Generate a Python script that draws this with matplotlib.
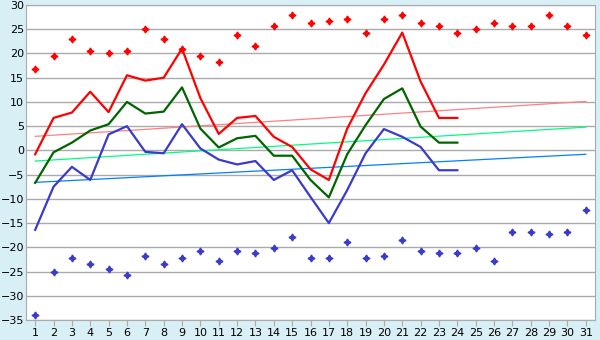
import matplotlib
matplotlib.use("Agg")
import matplotlib.pyplot as plt
import numpy as np

# dias del mes
dias = list(range(1, 32))
dias_linea = list(range(1, 25))

# puntos: maximas y minimas absolutas
max_abs = [16.7, 19.4, 22.9, 20.6, 20.0, 20.6, 25.0, 22.9, 21.0, 19.4,
           18.3, 23.9, 21.6, 25.6, 27.9, 26.2, 26.8, 27.2, 24.3, 27.2,
           27.9, 26.2, 25.6, 24.3, 25.0, 26.2, 25.6, 25.6, 27.9, 25.6, 23.9]
min_abs = [-34.0, -25.1, -22.2, -23.4, -24.5, -25.7, -21.8, -23.4, -22.2, -20.8,
           -22.8, -20.8, -21.2, -20.1, -17.9, -22.2, -22.2, -18.9, -22.2, -21.8,
           -18.5, -20.8, -21.2, -21.2, -20.1, -22.8, -16.8, -16.8, -17.2, -16.8, -12.3]

# lineas: maxima, media y minima diarias
t_max = [-0.8, 6.7, 7.8, 12.1, 7.9, 15.5, 14.4, 15.0, 21.0, 10.8,
         3.4, 6.7, 7.1, 2.8, 0.7, -3.9, -6.1, 4.5, 11.8, 17.7,
         24.3, 14.2, 6.7, 6.7]
t_med = [-6.7, -0.4, 1.6, 4.1, 5.4, 10.0, 7.6, 8.0, 13.0, 4.5,
         0.6, 2.5, 3.0, -1.1, -1.1, -6.1, -9.7, -0.8, 5.2, 10.6,
         12.8, 4.9, 1.6, 1.6]
t_min = [-16.4, -7.5, -3.4, -6.1, 3.3, 5.0, -0.3, -0.6, 5.4, 0.4,
         -1.9, -2.9, -2.2, -6.1, -4.1, -9.6, -15.0, -8.2, -0.6, 4.4,
         2.8, 0.7, -4.1, -4.1]

# tendencias (valor el dia 1 y el dia 31)
tend_dias = [1, 31]
tend_max = [2.9, 10.1]
tend_med = [-2.2, 4.8]
tend_min = [-6.6, -0.8]

fondo = "#d9eff6"
fig = plt.figure(figsize=(6, 3.4), dpi=100, facecolor=fondo)
ax = fig.add_axes([26 / 600, 20 / 340, 569 / 600, 315 / 340])
ax.set_facecolor("white")

ax.set_xlim(0.5, 31.5)
ax.set_ylim(-35, 30)
ax.set_yticks(np.arange(-35, 31, 5))
ax.set_xticks(dias)
ax.grid(axis="y", color="#aaaaaa", linewidth=1)
ax.set_axisbelow(True)

ax.plot(tend_dias, tend_max, color="#ff8080", linewidth=0.9)
ax.plot(tend_dias, tend_med, color="#00ff80", linewidth=0.9)
ax.plot(tend_dias, tend_min, color="#0080ff", linewidth=0.9)

ax.plot(dias_linea, t_max, color="#ff0000", linewidth=1.6)
ax.plot(dias_linea, t_med, color="#006400", linewidth=1.6)
ax.plot(dias_linea, t_min, color="#3a3acc", linewidth=1.6)

ax.plot(dias, max_abs, linestyle="none", marker=(4, 1, 0), markersize=5,
        color="#ff0000")
ax.plot(dias, min_abs, linestyle="none", marker=(4, 1, 0), markersize=5,
        color="#3a3acc")

for s in ax.spines.values():
    s.set_color("#aaaaaa")
ax.tick_params(axis="x", colors="#aaaaaa", labelcolor="black", labelsize=8,
               length=4, pad=2)
ax.tick_params(axis="y", colors="#aaaaaa", labelcolor="black", labelsize=8,
               length=0, pad=1.5)

fig.savefig("out.png", dpi=100, facecolor=fondo)
